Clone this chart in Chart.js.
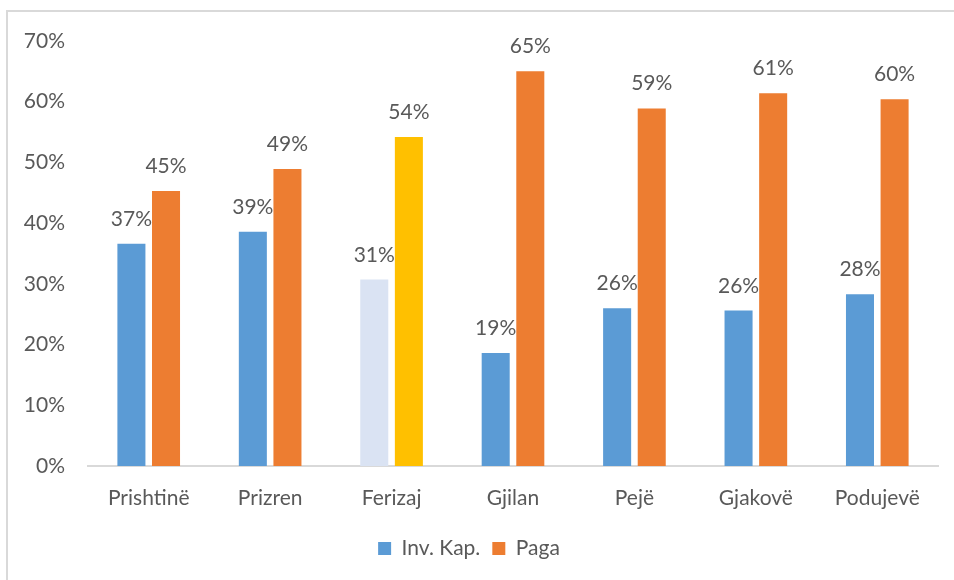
<!DOCTYPE html>
<html lang="sq">
<head>
<meta charset="UTF-8">
<title>Inv. Kap. / Paga</title>
<script src="https://cdn.jsdelivr.net/npm/chart.js"></script>
<style>
    html, body { margin: 0; padding: 0; background: #fff; }
    .korniza {
        position: relative;
        width: 954px;
        height: 580px;
    }
    .vija {
        position: absolute;
        left: 6px;
        top: 10px;
        right: -5px;
        bottom: -5px;
        border-left: 2px solid #d9d9d9;
        border-top: 2px solid #d9d9d9;
        pointer-events: none;
    }
    canvas { position: absolute; left: 0; top: 0; }
</style>
</head>
<body>
<div class="korniza">
    <canvas id="grafiku" width="954" height="580"></canvas>
    <div class="vija"></div>
</div>

<script>
    // te dhenat
    var komunat = ['Prishtinë', 'Prizren', 'Ferizaj', 'Gjilan', 'Pejë', 'Gjakovë', 'Podujevë'];
    var invKap = [36.6, 38.6, 30.7, 18.6, 26.0, 25.6, 28.3];
    var paga = [45.3, 48.9, 54.2, 65.0, 58.9, 61.4, 60.4];
    var yTicks = [0, 10, 20, 30, 40, 50, 60, 70];

    var ngjyraTekst = '#595959';
    var fonti = 'Lato, "Open Sans", sans-serif';
    var theksuar = 2; // Ferizaj ka ngjyra te tjera

    // etiketat mbi shtylla
    var etiketat = {
        id: 'etiketat',
        afterDatasetsDraw: function (chart) {
            var ctx = chart.ctx;
            ctx.save();
            ctx.font = '21px ' + fonti;
            ctx.fillStyle = ngjyraTekst;
            ctx.textAlign = 'center';
            ctx.textBaseline = 'alphabetic';
            chart.data.datasets.forEach(function (ds, i) {
                var meta = chart.getDatasetMeta(i);
                meta.data.forEach(function (bar, j) {
                    ctx.fillText(Math.round(ds.data[j]) + '%', bar.x, bar.y - 18);
                });
            });
            ctx.restore();
        }
    };

    var grafiku = new Chart(document.getElementById('grafiku'), {
        type: 'bar',
        data: {
            labels: komunat,
            datasets: [{
                label: 'Inv. Kap.',
                data: invKap,
                backgroundColor: function (c) {
                    return c.dataIndex === theksuar ? '#dae3f3' : '#5b9bd5';
                },
                categoryPercentage: 0.57,
                barPercentage: 0.81
            }, {
                label: 'Paga',
                data: paga,
                backgroundColor: function (c) {
                    return c.dataIndex === theksuar ? '#ffc000' : '#ed7d31';
                },
                categoryPercentage: 0.57,
                barPercentage: 0.81
            }]
        },
        options: {
            responsive: false,
            animation: false,
            layout: { padding: { left: 0, top: 41, right: 16, bottom: 11 } },
            plugins: {
                legend: {
                    position: 'bottom',
                    labels: {
                        color: ngjyraTekst,
                        font: { family: fonti, size: 21 },
                        boxWidth: 13,
                        boxHeight: 13,
                        padding: 12
                    }
                },
                tooltip: { enabled: false }
            },
            scales: {
                x: {
                    grid: { display: false },
                    border: { display: true, color: '#d9d9d9', width: 2 },
                    ticks: {
                        color: ngjyraTekst,
                        font: { family: fonti, size: 21 },
                        padding: 12
                    },
                    afterFit: function (s) { s.height = 60; }
                },
                y: {
                    min: 0,
                    max: 70,
                    afterBuildTicks: function (s) {
                        s.ticks = yTicks.map(function (v) { return { value: v }; });
                    },
                    grid: { display: false },
                    border: { display: false },
                    ticks: {
                        color: ngjyraTekst,
                        font: { family: fonti, size: 21 },
                        padding: 15,
                        callback: function (v) { return v + '%'; }
                    },
                    afterFit: function (s) { s.width = 88; }
                }
            }
        },
        plugins: [etiketat]
    });
</script>
</body>
</html>
